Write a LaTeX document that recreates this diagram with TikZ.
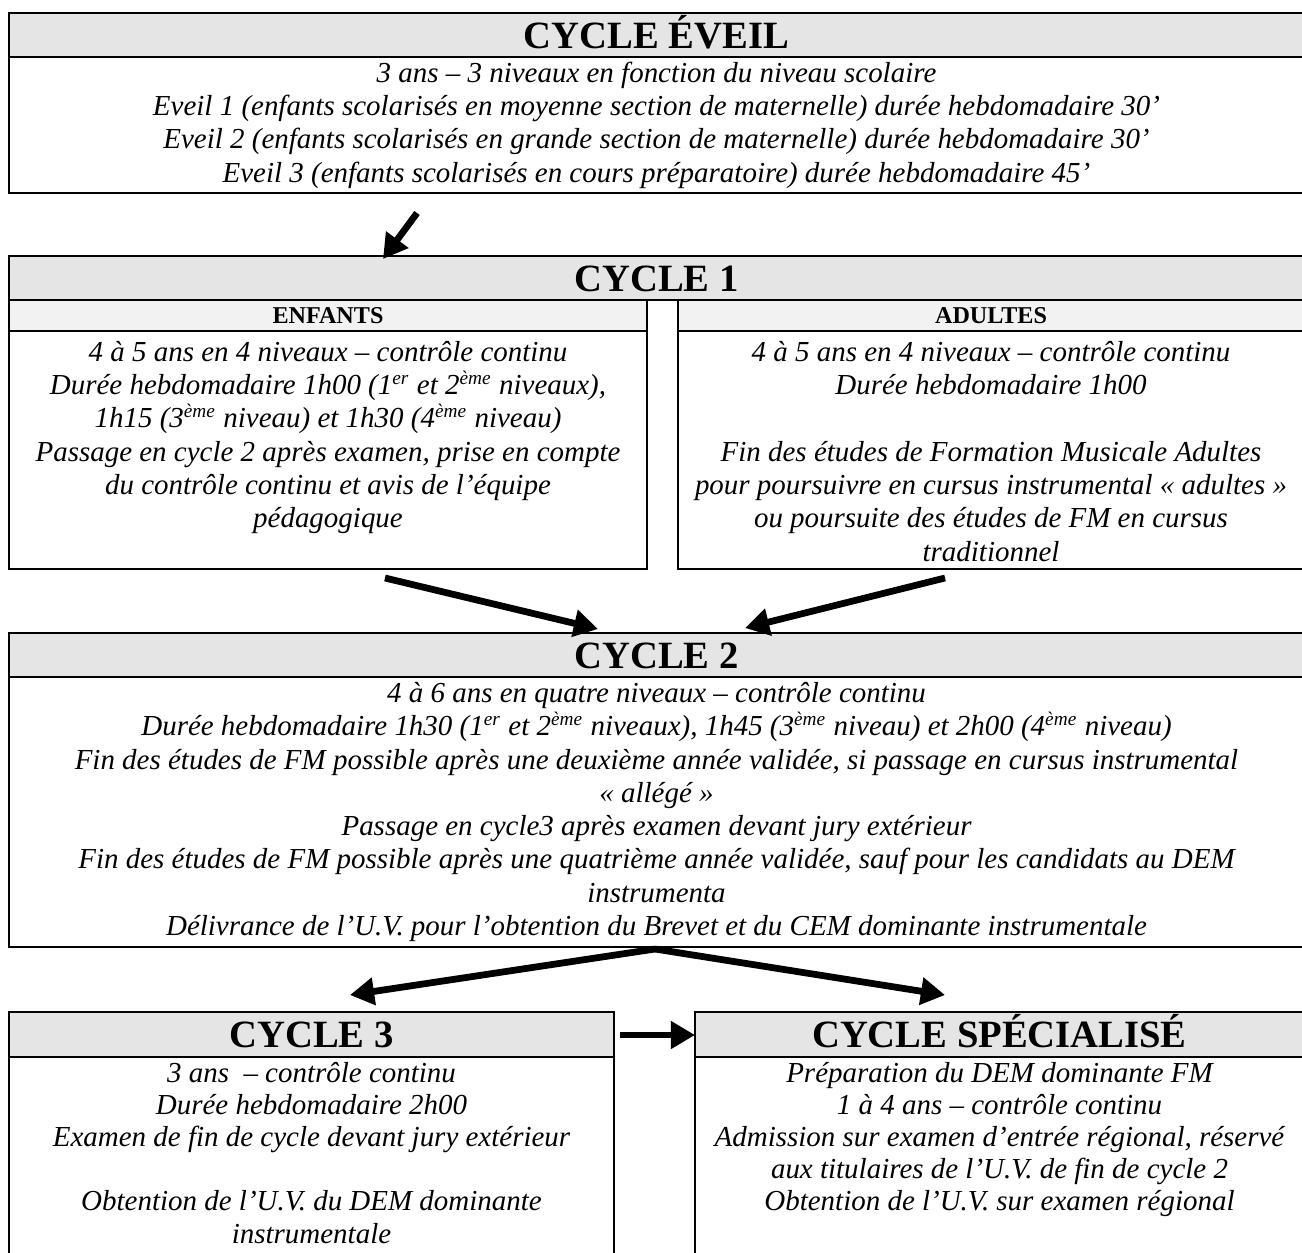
\documentclass[tikz,border=0pt]{standalone}
\usepackage{fontspec}
\setmainfont{Liberation Serif}
\usetikzlibrary{arrows.meta,positioning}

\definecolor{hdrgray}{gray}{0.9}
\definecolor{subgray}{gray}{0.95}
\newcommand{\pxu}{0.4142pt}
\newcommand{\hdrfont}{\fontsize{16}{18}\selectfont\bfseries}
\newcommand{\subfont}{\fontsize{10}{12}\selectfont\bfseries}
\newcommand{\txtfont}{\fontsize{12}{13.8}\selectfont\itshape}
\newcommand{\lowfont}{\fontsize{12}{13.3}\selectfont\itshape}
\newcommand{\sups}[1]{\textsuperscript{#1}}

\tikzset{
  box/.style={draw, line width=1.1pt, inner sep=0pt, outer sep=0pt},
  hdr/.style={box, fill=hdrgray, font=\hdrfont, text height=11pt, text depth=0pt, minimum height=44*\pxu},
  subhdr/.style={box, fill=subgray, font=\subfont, text height=7pt, text depth=0pt, minimum height=31*\pxu},
  txt/.style={font=\txtfont, align=center, inner sep=0pt},
  flow/.style={-{Triangle[length=10pt,width=11pt]}, line width=2.8pt}
}

\begin{document}
\begin{tikzpicture}[x=\pxu, y=-\pxu]
        \useasboundingbox (0,0) rectangle (1302,1252);
        \clip (0,0) rectangle (1302,1252);

        % cycle eveil
        \node[hdr, minimum width=1295*\pxu] (evlhdr) at (656.5,35) {CYCLE ÉVEIL};
        \node[box, minimum width=1295*\pxu, minimum height=136*\pxu] (evlbox) at (656.5,125) {};
        \node[txt] (evltxt) at (evlbox.center) {3 ans – 3 niveaux en fonction du niveau scolaire\\
            Eveil 1 (enfants scolarisés en moyenne section de maternelle) durée hebdomadaire 30’\\
            Eveil 2 (enfants scolarisés en grande section de maternelle) durée hebdomadaire 30’\\
            Eveil 3 (enfants scolarisés en cours préparatoire) durée hebdomadaire 45’};

        % cycle 1
        \node[hdr, minimum width=1295*\pxu] (c1hdr) at (656.5,278) {CYCLE 1};
        \node[subhdr, minimum width=638*\pxu] (enfhdr) at (328,315.5) {ENFANTS};
        \node[box, minimum width=638*\pxu, minimum height=238*\pxu] (enfbox) at (328,450) {};
        \node[txt, below=4pt of enfhdr] (enftxt) {4 à 5 ans en 4 niveaux – contrôle continu\\
            Durée hebdomadaire 1h00 (1\sups{er} et 2\sups{ème} niveaux),\\
            1h15 (3\sups{ème} niveau) et 1h30 (4\sups{ème} niveau)\\
            Passage en cycle 2 après examen, prise en compte\\
            du contrôle continu et avis de l’équipe\\
            pédagogique};
        \node[subhdr, minimum width=626*\pxu] (aduhdr) at (991,315.5) {ADULTES};
        \node[box, minimum width=626*\pxu, minimum height=238*\pxu] (adubox) at (991,450) {};
        \node[txt, below=4pt of aduhdr] (adutxt) {4 à 5 ans en 4 niveaux – contrôle continu\\
            Durée hebdomadaire 1h00\\ \mbox{}\\
            Fin des études de Formation Musicale Adultes\\
            pour poursuivre en cursus instrumental « adultes »\\
            ou poursuite des études de FM en cursus\\
            traditionnel};

        % cycle 2
        \node[hdr, minimum width=1295*\pxu] (c2hdr) at (656.5,655) {CYCLE 2};
        \node[box, minimum width=1295*\pxu, minimum height=270*\pxu] (c2box) at (656.5,812) {};
        \node[txt] (c2txt) at (c2box.center) {4 à 6 ans en quatre niveaux – contrôle continu\\
            Durée hebdomadaire 1h30 (1\sups{er} et 2\sups{ème} niveaux), 1h45 (3\sups{ème} niveau) et 2h00 (4\sups{ème} niveau)\\
            Fin des études de FM possible après une deuxième année validée, si passage en cursus instrumental\\
            « allégé »\\
            Passage en cycle3 après examen devant jury extérieur\\
            Fin des études de FM possible après une quatrième année validée, sauf pour les candidats au DEM\\
            instrumenta\\
            Délivrance de l’U.V. pour l’obtention du Brevet et du CEM dominante instrumentale};

        % cycle 3 and cycle specialise
        \node[hdr, minimum width=605*\pxu, minimum height=45*\pxu] (c3hdr) at (311.5,1034.5) {CYCLE 3};
        \node[box, minimum width=605*\pxu, minimum height=210*\pxu] (c3box) at (311.5,1162) {};
        \node[txt, font=\lowfont, below=2pt of c3hdr] (c3txt) {3 ans ~– contrôle continu\\
            Durée hebdomadaire 2h00\\
            Examen de fin de cycle devant jury extérieur\\ \mbox{}\\
            Obtention de l’U.V. du DEM dominante\\
            instrumentale};
        \node[hdr, minimum width=609*\pxu, minimum height=45*\pxu] (csphdr) at (999.5,1034.5) {CYCLE SPÉCIALISÉ};
        \node[box, minimum width=609*\pxu, minimum height=210*\pxu] (cspbox) at (999.5,1162) {};
        \node[txt, font=\lowfont, below=2pt of csphdr] (csptxt) {Préparation du DEM dominante FM\\
            1 à 4 ans – contrôle continu\\
            Admission sur examen d’entrée régional, réservé\\
            aux titulaires de l’U.V. de fin de cycle 2\\
            Obtention de l’U.V. sur examen régional};

        % arrow ends
        \coordinate (evlout) at (417,213);
        \coordinate (c1in) at (383,259);
        \coordinate (enfout) at (385,578);
        \coordinate (aduout) at (945,578);
        \coordinate (c2inl) at (598,629);
        \coordinate (c2inr) at (745,628);
        \coordinate (c2out) at (655,949);
        \coordinate (c3in) at (350,995);
        \coordinate (cspin) at (945,995);
        \coordinate (c3out) at (620,1035);
        \coordinate (cspside) at (695,1035);

        \path [flow] (evlout) edge (c1in);
        \path [flow] (enfout) edge (c2inl);
        \path [flow] (aduout) edge (c2inr);
        \path [flow] (c2out) edge (c3in);
        \path [flow] (c2out) edge (cspin);
        \path [flow] (c3out) edge (cspside);
\end{tikzpicture}
\end{document}
